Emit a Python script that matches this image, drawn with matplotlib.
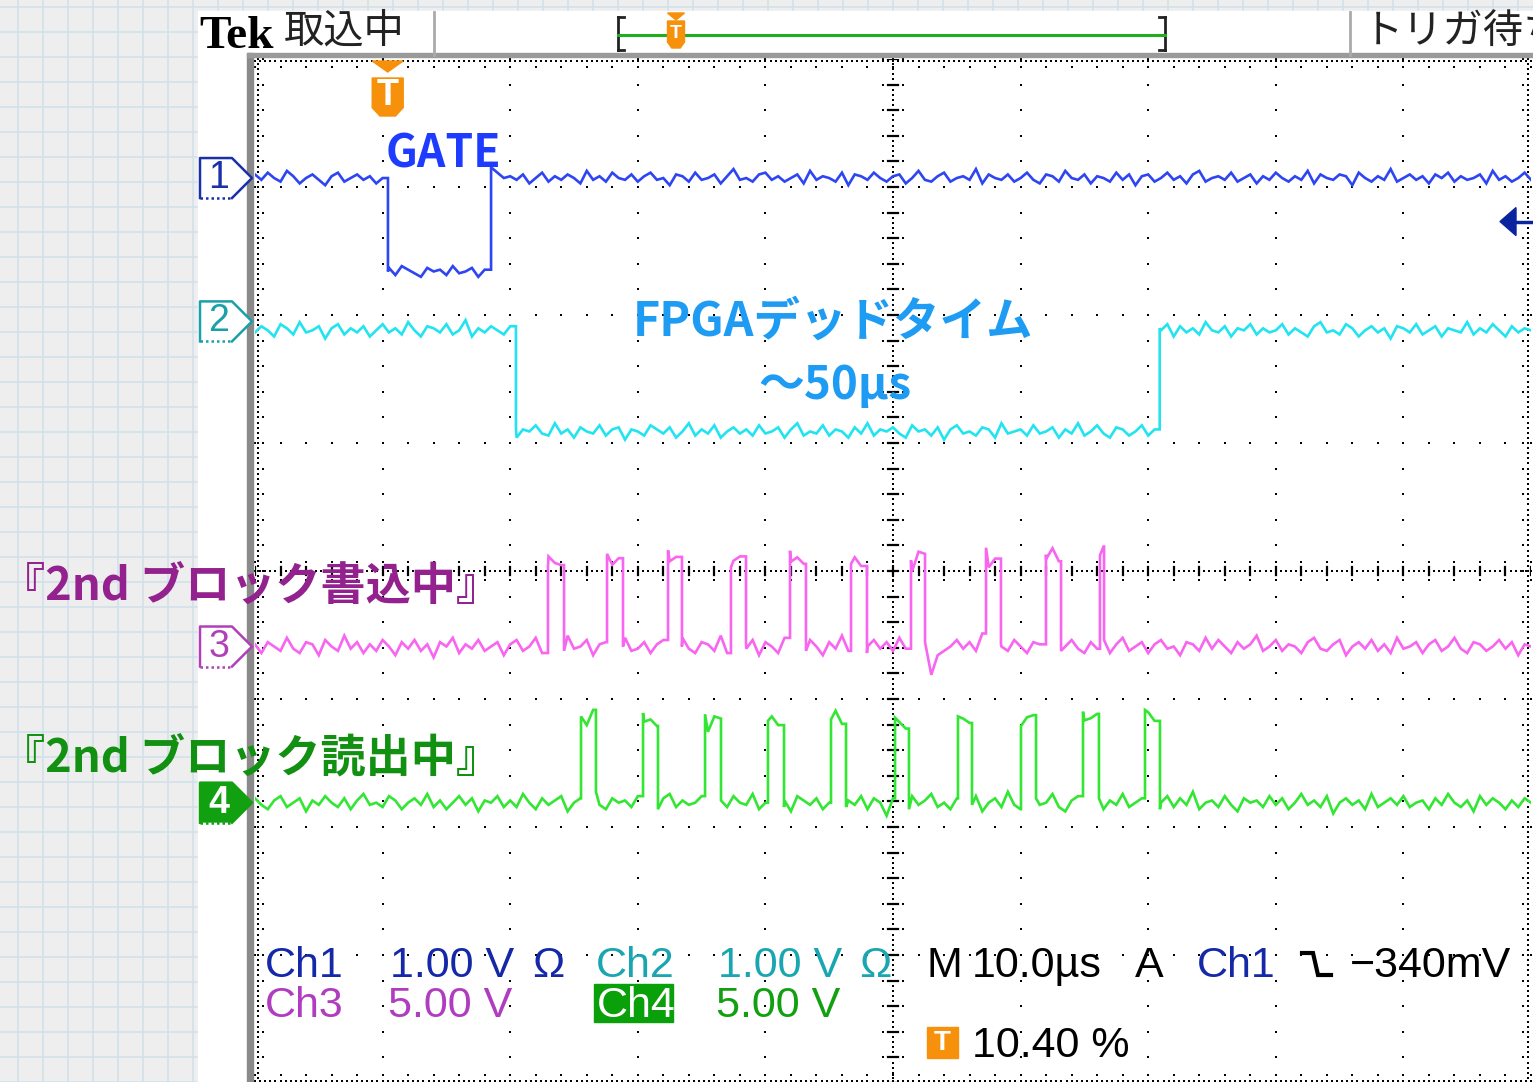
import numpy as np
import matplotlib
matplotlib.use("Agg")
import matplotlib.pyplot as plt
from matplotlib.patches import Polygon, Rectangle
from matplotlib.transforms import blended_transform_factory as blend

# ---------------- values ----------------
time_per_div_us = 10.0          # "M 10.0µs"
trigger_pos_pct = 10.40         # "T 10.40 %"
trigger_level_v = -0.340        # "Ch1 \ -340mV"
ch1_volts_per_div = 1.00
step_us = 0.5                   # spacing of the ripple readings

ch_names = ["1", "2", "3", "4"]
ch_ground_div = [3.07, 1.95, -0.59, -1.81]

ch1_edges_us = [10.42, 18.5]
ch1_levels_div = [3.07, 2.34, 3.07]
ch2_edges_us = [20.45, 70.9]
ch2_levels_div = [1.88, 1.09, 1.88]
ch3_edges_us = [22.96, 24.22, 27.59, 28.84, 32.37, 33.46, 37.30, 38.48, 41.93, 43.18,
                46.71, 47.96, 51.41, 52.51, 57.29, 58.46, 61.99, 63.17, 66.22, 66.54]
ch3_levels_div = [-0.59, 0.08, -0.59, 0.10, -0.59, 0.11, -0.59, 0.08, -0.59, 0.09,
                  -0.59, 0.09, -0.59, 0.10, -0.59, 0.08, -0.59, 0.11, -0.59, 0.14, -0.59]
ch4_edges_us = [25.55, 26.72, 30.41, 31.58, 35.27, 36.52, 40.20, 41.46, 45.14, 46.32,
                50.16, 51.25, 55.09, 56.19, 60.03, 61.21, 64.89, 66.14, 69.75, 70.92]
ch4_levels_div = [-1.81, -1.17, -1.81, -1.16, -1.81, -1.17, -1.81, -1.17, -1.81, -1.16,
                  -1.81, -1.18, -1.81, -1.17, -1.81, -1.16, -1.81, -1.15, -1.81, -1.12, -1.81]

# trace ripple, hundredths of a division, one reading every 0.5 µs
ch1_ripple = [2,-1,3,0,-2,4,1,-3,0,2,-1,-4,1,3,-2,0,2,-1,1,-3,
              0,2,-2,3,1,-1,-3,2,0,1,-2,3,-1,0,2,-3,1,6,3,0,
              1,-1,2,-3,0,3,-2,1,-1,2,0,-3,4,-1,1,-2,3,0,-1,2,
              -2,1,3,-1,0,-4,2,1,-2,3,-1,0,2,-3,1,5,-1,0,-2,2,
              3,-1,1,-2,0,2,-3,4,-1,1,0,-2,3,-4,2,1,-1,3,0,-2,
              1,2,-3,0,4,-1,-2,1,3,-2,0,1,-1,5,-3,2,0,-1,2,-2,
              0,3,-1,-3,2,1,-2,4,0,-1,2,-3,1,0,-2,3,-1,2,-4,1,
              2,-2,0,3,-1,1,-3,2,4,-2,0,1,-1,3,-2,0,2,-3,1,-1,
              3,0,-2,1,-1,4,-3,2,0,-1,2,1,-4,3,0,-2,1,-1,5,-2,
              0,2,-1,1,-3,2,0,3,-2,1,-1,0,2,-3,4,-1,1,-2,0,3,-1]
ch2_ripple = [-1,2,0,-3,3,1,-2,4,-1,0,2,-4,1,3,-2,1,-1,2,-3,0,
              3,-1,1,-2,4,0,-3,2,1,-1,3,-2,0,5,-3,1,-1,2,0,-2,
              2,-3,1,0,3,-1,-2,4,-1,1,-3,2,0,-1,3,-2,1,2,-4,1,
              0,-2,3,1,-1,2,-3,0,4,-2,1,-1,3,-3,0,2,-1,1,-2,3,
              -1,0,2,-3,1,4,-2,0,-1,3,-2,1,0,-3,2,-1,4,-2,1,0,
              2,-1,-3,3,0,1,-2,2,-4,1,3,-1,0,-2,2,1,-3,4,-1,0,
              1,-2,3,-1,0,2,-3,1,-1,4,-2,0,3,-1,-3,2,1,-2,0,3,
              -2,1,0,3,-3,2,-1,1,-2,4,0,-1,2,-3,1,0,3,-2,1,-1,
              0,3,-2,1,-1,-3,2,4,-1,0,-2,3,1,-3,0,2,-1,1,-4,2,
              1,-1,3,-2,0,2,-3,1,0,-1,4,-2,1,-1,3,0,-3,2,-1,1,0]
ch3_ripple = [1,-3,2,0,-2,4,-1,-3,2,1,-4,3,0,-2,5,-1,2,-3,1,-2,
              3,0,-4,2,-1,3,-2,1,-5,2,0,4,-3,1,-1,3,-2,0,2,-4,
              1,3,-2,0,4,-3,2,-1,-2,5,-1,0,3,-4,1,2,-3,0,4,-2,
              -1,2,-3,1,3,-2,0,4,-1,-3,2,1,-2,5,-3,0,2,-1,3,-4,
              2,0,-3,4,-1,1,-2,3,0,-4,2,-1,5,-2,1,-3,0,3,-1,2,
              -2,4,-1,-6,3,2,-13,-4,-2,0,3,-1,2,-2,6,-3,1,0,-2,3,
              0,-3,2,1,-1,4,-2,0,3,-1,-3,2,-1,3,-3,1,4,-2,0,2,
              -3,1,3,-1,0,-4,2,1,-2,4,-1,3,0,-3,2,-1,1,5,-2,0,
              3,-2,1,0,-3,2,4,-1,-2,1,3,-4,0,2,-1,3,-2,1,-3,4,
              -1,0,2,-3,1,3,-2,0,4,-1,-3,2,1,-2,0,3,-1,2,-4,1,0]
ch4_ripple = [2,-1,-3,1,3,-2,0,2,-4,1,-1,3,0,-2,2,-3,1,4,-1,0,
              -2,3,1,-3,0,2,-1,4,-2,1,-3,0,3,-1,2,-4,1,0,3,-2,
              1,-2,4,0,-3,2,-1,1,3,-4,0,2,-2,5,-1,-3,2,0,1,-2,
              3,-1,0,-3,2,4,-2,1,-1,0,3,-5,2,1,-2,3,0,-1,4,-3,
              0,2,-2,1,-4,3,1,-1,2,-3,0,4,-2,1,-1,3,-3,2,0,-6,
              2,0,-3,3,-1,1,4,-2,0,-3,2,1,-1,3,-4,0,2,-2,5,-1,
              -3,1,2,-1,0,4,-2,-4,1,3,-1,0,2,-3,1,-1,4,-2,0,2,
              1,-3,0,3,-2,2,-1,5,-3,0,1,-2,3,-1,-4,2,0,1,-2,3,
              -1,2,-3,0,4,-1,1,-2,3,-5,0,2,-1,1,-3,4,-2,0,2,-1,
              3,-2,0,1,-3,2,-1,4,0,-2,1,-4,3,-1,2,0,-3,1,-2,2,0]

readout_row1 = ["Ch1", "1.00 V", "Ω", "Ch2", "1.00 V", "Ω", "M", "10.0µs", "A", "Ch1", "−340mV"]
readout_row2 = ["Ch3", "5.00 V", "Ch4", "5.00 V"]
readout_row3 = ["10.40 %"]

# ---------------- styles ----------------
W, H = 1533, 1082
C_CH = ["#2e45f2", "#22e4f0", "#f865f0", "#33e633"]
C_MARK = ["#1a30a8", "#1aa0a8", "#b040b8", "#10a010"]
C_BLUE = "#1428a8"; C_TEAL = "#1aa6b0"; C_MAG = "#b03cc0"; C_GRN = "#10a010"
ORANGE = "#f7900a"
JP_BOLD = ["Noto Sans CJK JP", "DejaVu Sans"]
JP = ["Noto Sans CJK JP", "DejaVu Sans"]
RO = ["Liberation Sans", "DejaVu Sans"]

fig = plt.figure(figsize=(W / 100, H / 100), dpi=100)
fig.patch.set_facecolor("#eeeeee")

# background (graph paper + white screen area) in pixel units
bg = fig.add_axes([0, 0, 1, 1], label="bg", zorder=0)
bg.set_xlim(0, W); bg.set_ylim(H, 0); bg.axis("off")
bg.add_patch(Rectangle((0, 0), W, H, color="#eeeeee", zorder=0))
for gx in np.arange(18.3, W, 25):
    bg.plot([gx, gx], [0, H], color="#d0e0ea", lw=1.1, zorder=1)
for gy in np.arange(6.7, H, 25):
    bg.plot([0, W], [gy, gy], color="#d0e0ea", lw=1.1, zorder=1)
bg.add_patch(Rectangle((198, 11), W - 198, H, color="white", zorder=2))

# scope graticule
ax = fig.add_axes([255 / W, -1 / H, 1276 / W, 1024 / H], label="scope", zorder=1)
ax.set_xlim(0, 10 * time_per_div_us); ax.set_ylim(-4, 4)
ax.set_facecolor("white")
for s in ax.spines.values():
    s.set_visible(False)
ax.set_xticks([]); ax.set_yticks([])

xmaj = np.arange(0, 10.5, 1) * time_per_div_us
ymaj = np.arange(-4, 5, 1)
xmin = np.arange(0, 100.01, 2.0)
ymin = np.arange(-4, 4.001, 0.2)
dk = dict(marker="s", s=3.2, c="black", linewidths=0, zorder=2, clip_on=False)
for xv in xmaj[1:-1]:
    if xv != 50:
        ax.scatter(np.full_like(ymin, xv), ymin, **dk)
for yv in ymaj[1:-1]:
    if yv != 0:
        ax.scatter(xmin, np.full_like(xmin, yv), **dk)
dense_y = np.arange(-4, 4.001, 0.04)
dense_x = np.arange(0, 100.01, 0.4)
ax.scatter(np.full_like(dense_y, 50), dense_y, **dk)
ax.scatter(dense_x, np.zeros_like(dense_x), **dk)
for yv in ymin:
    ax.plot([49.6, 50.4], [yv, yv], color="black", lw=1.6, zorder=2)
    ax.scatter([49.25, 50.75], [yv, yv], **dk)
for xv in xmin:
    ax.plot([xv, xv], [-0.035, 0.035], color="black", lw=1.6, zorder=2)
    ax.scatter([xv, xv], [-0.07, 0.07], **dk)
# graticule border ticks
ax.scatter(np.full_like(dense_y, 0.2), dense_y, **dk)
ax.scatter(np.full_like(ymin, 0.6), ymin, **dk)
ax.scatter(np.full_like(dense_y, 99.8), dense_y, **dk)
ax.scatter(np.full_like(ymin, 99.4), ymin, **dk)
ax.scatter(dense_x, np.full_like(dense_x, 3.985), **dk)
ax.scatter(xmin, np.full_like(xmin, 3.94), **dk)
ax.scatter(dense_x, np.full_like(dense_x, -3.985), **dk)
ax.scatter(xmin, np.full_like(xmin, -3.94), **dk)


def trace_points(edges, levels, ripple, unit=0.01):
    t = np.arange(len(ripple)) * step_us
    xs, ys = [], []
    k = 0
    prev = ripple[0]
    for ti, r in zip(t, ripple):
        while k < len(edges) and edges[k] <= ti:
            xs += [edges[k], edges[k]]
            ys += [levels[k] + prev * unit, levels[k + 1] + prev * unit]
            k += 1
        xs.append(ti)
        ys.append(levels[k] + r * unit)
        prev = r
    return xs, ys


traces = [(ch1_edges_us, ch1_levels_div, ch1_ripple, 0.014),
          (ch2_edges_us, ch2_levels_div, ch2_ripple, 0.016),
          (ch3_edges_us, ch3_levels_div, ch3_ripple, 0.017),
          (ch4_edges_us, ch4_levels_div, ch4_ripple, 0.017)]
for (e, l, r, u), col in zip(traces, C_CH):
    xs, ys = trace_points(e, l, r, u)
    ax.plot(xs, ys, color=col, lw=1.9, zorder=4, solid_joinstyle="miter")

# ---------------- overlay (pixel units) ----------------
ov = fig.add_axes([0, 0, 1, 1], label="overlay", zorder=3)
ov.set_xlim(0, W); ov.set_ylim(H, 0); ov.axis("off"); ov.patch.set_alpha(0)

# bezel
ov.add_patch(Rectangle((247, 53), 6, H, color="#8a8a8a", zorder=1))
ov.add_patch(Rectangle((247, 53), W, 4, color="#9a9a9a", zorder=1))
ov.plot([434, 434], [12, 55], color="#aaaaaa", lw=2)
ov.plot([1350, 1350], [12, 55], color="#aaaaaa", lw=2)

# status bar
ov.text(199, 48, "Tek", fontfamily=["Liberation Serif"], fontweight="bold",
        fontsize=34, color="black", va="baseline")
ov.text(284, 31, "取込中", fontfamily=JP, fontsize=29, color="#222222", va="center")
ov.text(1363, 31, "トリガ待ち", fontfamily=JP, fontsize=29, color="#222222", va="center")
for xa, xb in [(618, 624), (1165, 1159)]:
    ov.plot([xa, xa], [17, 50], color="#222222", lw=2)
    ov.plot([xa, xb], [17, 17], color="#222222", lw=2)
    ov.plot([xa, xb], [50, 50], color="#222222", lw=2)
ov.plot([618, 1165], [35, 35], color="#1fae1f", lw=2.2)


def t_marker(cx, tri_top, tri_h, sh_top, sh_h, w, fs):
    ov.add_patch(Polygon([(cx - w / 2, tri_top), (cx + w / 2, tri_top), (cx, tri_top + tri_h)],
                         closed=True, color=ORANGE, zorder=5))
    ov.add_patch(Polygon([(cx - w / 2, sh_top), (cx + w / 2, sh_top),
                          (cx + w / 2, sh_top + sh_h * 0.78), (cx + w / 4, sh_top + sh_h),
                          (cx - w / 4, sh_top + sh_h), (cx - w / 2, sh_top + sh_h * 0.78)],
                         closed=True, color=ORANGE, zorder=5))
    ov.text(cx, sh_top + sh_h * 0.47, "T", color="white", fontweight="bold", fontfamily=RO,
            fontsize=fs, ha="center", va="center", zorder=6)


trig_t = trigger_pos_pct / 100 * 10 * time_per_div_us
trig_px = ov.transData.inverted().transform(ax.transData.transform((trig_t, 0)))[0]
t_marker(trig_px, 61, 11, 78, 38, 31, 26)
t_marker(676, 13, 7, 21, 27, 17, 14)

# channel ground markers
tr_ch = blend(ov.transData, ax.transData)
hh = 20 / 128
for i, (name, g) in enumerate(zip(ch_names, ch_ground_div)):
    col = C_MARK[i]
    filled = (i == 3)
    pts = [(200, g + hh), (232, g + hh), (252, g), (232, g - hh), (200, g - hh)]
    ov.add_patch(Polygon(pts, closed=True, facecolor=col if filled else "white",
                         edgecolor="none", transform=tr_ch, zorder=2))
    ov.plot([200, 200, 232, 252, 232], [g - hh, g + hh, g + hh, g, g - hh],
            color=col, lw=1.8, transform=tr_ch, zorder=3, clip_on=False)
    ov.plot([200, 232], [g - hh, g - hh], color=col, lw=1.8, ls=(0, (1, 1.2)),
            transform=tr_ch, zorder=3, clip_on=False)
    ov.text(219, g, name, color="white" if filled else col, fontfamily=RO,
            fontweight="bold" if filled else "normal",
            fontsize=27, ha="center", va="center", transform=tr_ch, zorder=4)

# ch1 trigger level arrow (right edge)
lvl = ch_ground_div[0] + trigger_level_v / ch1_volts_per_div
ov.add_patch(Polygon([(1500, lvl), (1516, lvl + 14 / 128), (1516, lvl - 14 / 128)],
                     closed=True, color="#0a24a0", transform=tr_ch, zorder=5))
ov.plot([1514, 1531], [lvl, lvl], color="#0a24a0", lw=2.5, transform=tr_ch, zorder=5)

# annotations
ov.text(386, 167, "GATE", color="#1e3cff", fontfamily=JP_BOLD, fontweight="bold",
        fontsize=32, va="baseline", zorder=6)
ov.text(833, 336, "FPGAデッドタイム", color="#1e9bf2", fontfamily=JP_BOLD,
        fontweight="bold", fontsize=33.5, ha="center", va="baseline", zorder=6)
ov.text(835, 399, "～50µs", color="#1e9bf2", fontfamily=JP_BOLD,
        fontweight="bold", fontsize=33, ha="center", va="baseline", zorder=6)
ov.text(0, 600, "『2nd ブロック書込中』", color="#93228f", fontfamily=JP_BOLD,
        fontweight="bold", fontsize=32.5, va="baseline", zorder=6)
ov.text(0, 771, "『2nd ブロック読出中』", color="#129012", fontfamily=JP_BOLD,
        fontweight="bold", fontsize=32.5, va="baseline", zorder=6)

# readouts
fs_ro = 31
row1_x = [265, 390, 532, 596, 718, 859, 926, 972, 1135, 1197, 1350]
row1_c = [C_BLUE, C_BLUE, C_BLUE, C_TEAL, C_TEAL, C_TEAL, "black", "black", "black",
          C_BLUE, "black"]
for s, x, c in zip(readout_row1, row1_x, row1_c):
    ov.text(x, 977, s, color=c, fontfamily=RO, fontsize=fs_ro, va="baseline", zorder=6)
ov.plot([1302, 1313, 1318, 1331], [953, 953, 975, 975], color="black", lw=3,
        solid_joinstyle="miter", zorder=6)
ov.add_patch(Rectangle((594, 984), 79, 38, color="#0aa00a", zorder=5))
row2_x = [265, 388, 597, 716]
row2_c = [C_MAG, C_MAG, "white", C_GRN]
for s, x, c in zip(readout_row2, row2_x, row2_c):
    ov.text(x, 1017, s, color=c, fontfamily=RO, fontsize=fs_ro, va="baseline", zorder=6)
ov.add_patch(Rectangle((927, 1027), 31, 31, color=ORANGE, zorder=5))
ov.text(942.5, 1042.5, "T", color="white", fontfamily=RO, fontweight="bold",
        fontsize=20, ha="center", va="center", zorder=6)
ov.text(972, 1057, readout_row3[0], color="black", fontfamily=RO, fontsize=fs_ro,
        va="baseline", zorder=6)

fig.savefig("out.png", dpi=100, facecolor=fig.get_facecolor())
